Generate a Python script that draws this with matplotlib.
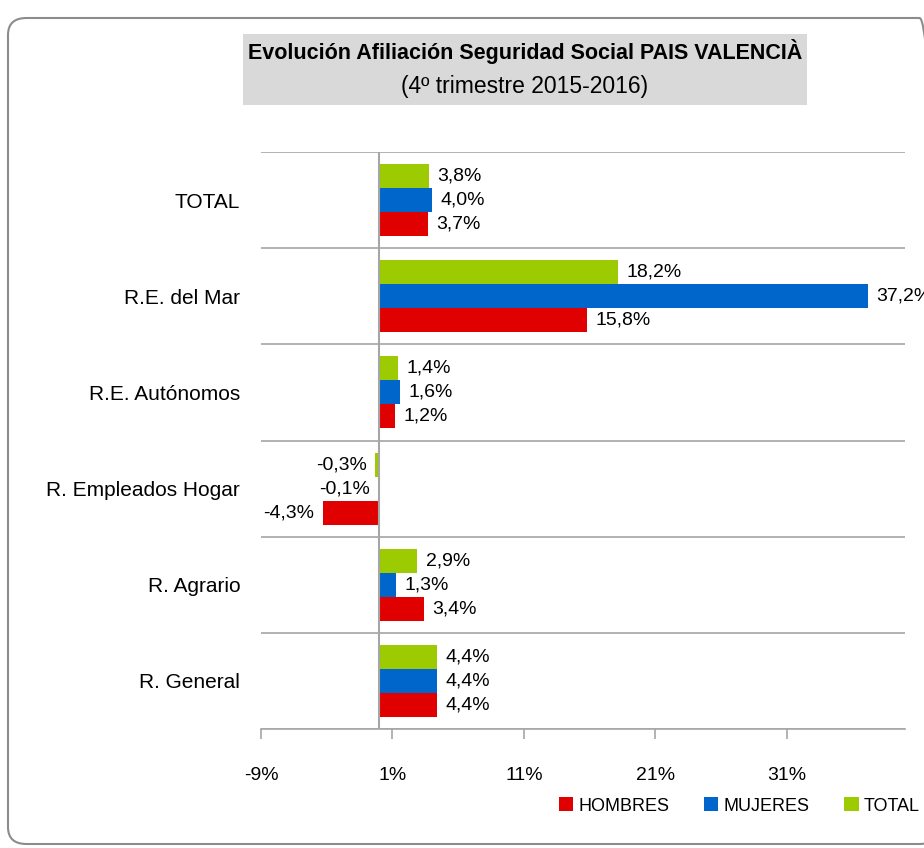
import matplotlib
matplotlib.use("Agg")
import matplotlib.pyplot as plt
from matplotlib.patches import FancyBboxPatch, Patch, Rectangle
import numpy as np

plt.rcParams['font.family'] = ['Liberation Sans', 'DejaVu Sans']

categories = ["R. General", "R. Agrario", "R. Empleados Hogar",
              "R.E. Autónomos", "R.E. del Mar", "TOTAL"]
hombres = [4.4, 3.4, -4.3, 1.2, 15.8, 3.7]
mujeres = [4.4, 1.3, -0.1, 1.6, 37.2, 4.0]
total = [4.4, 2.9, -0.3, 1.4, 18.2, 3.8]
series_names = ["HOMBRES", "MUJERES", "TOTAL"]
colors = ["#e00000", "#0066cc", "#9bcb00"]
xticks = [-9, 1, 11, 21, 31]

W, H = 924, 848
fig = plt.figure(figsize=(W / 100, H / 100), dpi=100)

# rounded chart border
border = FancyBboxPatch((8 / W, 4 / H), 930 / W, 826 / H,
                        boxstyle="round,pad=0,rounding_size=0.02",
                        transform=fig.transFigure, fill=False,
                        edgecolor="#8c8c8c", linewidth=1.5)
fig.patches.append(border)

# title box
tb = Rectangle((243 / W, 1 - 105 / H), (807 - 243) / W, (105 - 34) / H,
               transform=fig.transFigure, facecolor="#d9d9d9", edgecolor="none")
fig.patches.append(tb)
fig.text(525 / W, 1 - 52 / H, "Evolución Afiliación Seguridad Social PAIS VALENCIÀ",
         ha="center", va="center", fontsize=15.5, fontweight="bold")
fig.text(525 / W, 1 - 87 / H, "(4º trimestre 2015-2016)",
         ha="center", va="center", fontsize=16.5)

left, right = 261 / W, 905 / W
bottom, top = 1 - 729 / H, 1 - 152 / H
ax = fig.add_axes([left, bottom, right - left, top - bottom])

y = np.arange(len(categories))
h = 0.25
series = [hombres, mujeres, total]
offsets = [-h, 0, h]
for vals, col, off, name in zip(series, colors, offsets, series_names):
    ax.barh(y + off, vals, height=h, color=col, label=name, zorder=3)
    for yy, v in zip(y + off, vals):
        txt = f"{v:.1f}%".replace(".", ",")
        if v >= 0:
            ax.annotate(txt, (v, yy), xytext=(6, 0), textcoords="offset points",
                        ha="left", va="center", fontsize=14, annotation_clip=False)
        else:
            ax.annotate(txt, (v, yy), xytext=(-6, 0), textcoords="offset points",
                        ha="right", va="center", fontsize=14, annotation_clip=False)

ax.set_xlim(-9, 40)
ax.set_ylim(-0.5, len(categories) - 0.5)
ax.set_yticks(y)
ax.set_yticklabels(categories, fontsize=15)
ax.tick_params(axis="y", length=0, pad=15)
ax.set_xticks(xticks)
ax.set_xticklabels([f"{t}%" for t in xticks], fontsize=14)
ax.tick_params(axis="x", length=7, color="#a6a6a6", width=1.2, pad=20)

for b in np.arange(-0.5, len(categories), 1.0):
    ax.axhline(b, color="#a6a6a6", linewidth=1.2, zorder=1)
ax.axvline(0, color="#a6a6a6", linewidth=1.5, zorder=4)

for s in ["left", "right", "top"]:
    ax.spines[s].set_visible(False)
ax.spines["bottom"].set_color("#a6a6a6")
ax.spines["bottom"].set_linewidth(1.2)

handles = [Patch(facecolor=c, edgecolor="none") for c in colors]
fig.legend(handles, series_names, loc="center right", bbox_to_anchor=(920 / W, 1 - 806 / H),
           ncol=3, frameon=False, fontsize=13, handlelength=0.8, handleheight=0.8,
           handletextpad=0.3, columnspacing=1.9, borderpad=0, borderaxespad=0)

fig.savefig("out.png", dpi=100)
